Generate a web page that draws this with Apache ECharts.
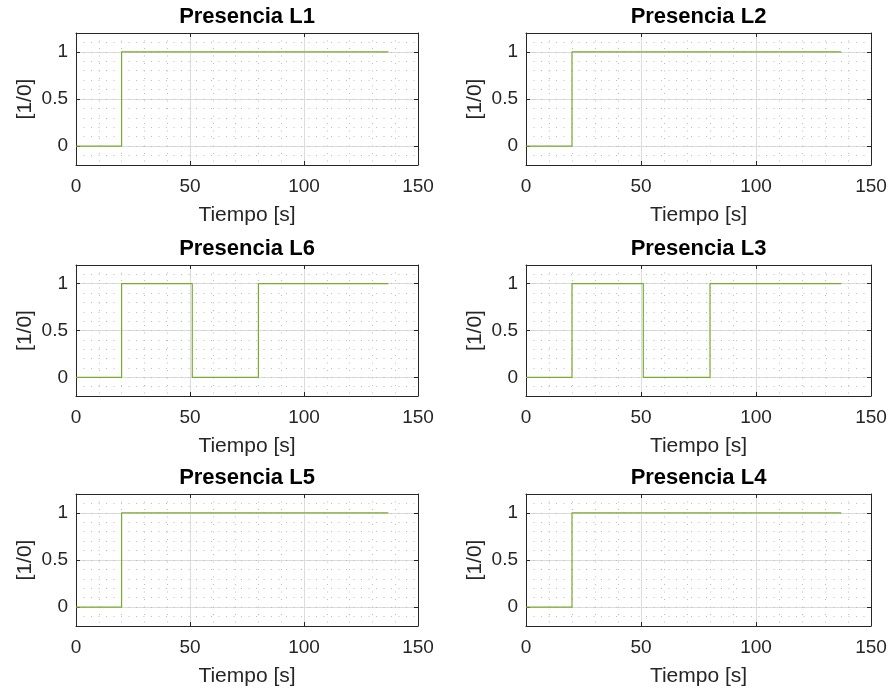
<!DOCTYPE html>
<html>
<head>
<meta charset="utf-8">
<script src="https://cdn.jsdelivr.net/npm/echarts@6/dist/echarts.min.js"></script>
<style>
html,body{margin:0;padding:0;background:#fff;}
#c{width:891px;height:690px;}
</style>
</head>
<body>
<div id="c"></div>
<script>
// ---- data ----
const titles = ['Presencia L1', 'Presencia L2', 'Presencia L6', 'Presencia L3', 'Presencia L5', 'Presencia L4'];
const timeL1 = [0, 20, 137];            const valL1 = [0, 1, 1];
const timeL2 = [0, 20, 137];            const valL2 = [0, 1, 1];
const timeL6 = [0, 20, 51, 80, 137];    const valL6 = [0, 1, 0, 1, 1];
const timeL3 = [0, 20, 51, 80, 137];    const valL3 = [0, 1, 0, 1, 1];
const timeL5 = [0, 20, 137];            const valL5 = [0, 1, 1];
const timeL4 = [0, 20, 137];            const valL4 = [0, 1, 1];
const yTickValues = [0, 0.5, 1];
const xLabel = 'Tiempo [s]';
const yLabel = '[1/0]';

const panels = [
  [timeL1, valL1], [timeL2, valL2],
  [timeL6, valL6], [timeL3, valL3],
  [timeL5, valL5], [timeL4, valL4]
];

// ---- layout ----
const colLeft = [76, 526];
const colWidth = [342, 345];
const rowTop = [33, 265, 494];
const rowHeight = [132, 131, 132];

const FONT = 'Arial, "Liberation Sans", Helvetica, sans-serif';
const DARK = '#262626';
const LINE = '#77ac30';
const MINOR = {color: '#bcbcbc', width: 1, type: [1, 6.5]};

const grid = [], xAxis = [], yAxis = [], series = [];
panels.forEach((p, i) => {
  const r = Math.floor(i / 2), c = i % 2;
  grid.push({left: colLeft[c], top: rowTop[r], width: colWidth[c], height: rowHeight[r], containLabel: false});
  // bottom main x axis
  xAxis.push({
    type: 'value', gridIndex: i, position: 'bottom', min: 0, max: 150, interval: 50,
    axisLine: {show: true, onZero: false, lineStyle: {color: DARK, width: 1}},
    axisTick: {show: true, inside: true, length: 4, lineStyle: {color: DARK}},
    axisLabel: {show: true, color: DARK, fontSize: 19, fontFamily: FONT, margin: 12},
    splitLine: {show: true, lineStyle: {color: '#dcdcdc', width: 1}},
    minorTick: {show: false, splitNumber: 5},
    minorSplitLine: {show: true, lineStyle: MINOR},
    name: xLabel, nameLocation: 'middle', nameGap: 40,
    nameTextStyle: {color: DARK, fontSize: 21, fontFamily: FONT}
  });
  // top box x axis with title
  xAxis.push({
    type: 'value', gridIndex: i, position: 'top', min: 0, max: 150, interval: 50,
    axisLine: {show: true, onZero: false, lineStyle: {color: DARK, width: 1}},
    axisTick: {show: true, inside: true, length: 4, lineStyle: {color: DARK}},
    axisLabel: {show: false}, splitLine: {show: false},
    name: titles[i], nameLocation: 'middle', nameGap: 5,
    nameTextStyle: {color: '#000', fontSize: 22, fontWeight: 'bold', fontFamily: FONT}
  });
  // left main y axis
  yAxis.push({
    type: 'value', gridIndex: i, position: 'left', min: -0.2, max: 1.2,
    axisLine: {show: true, onZero: false, lineStyle: {color: DARK, width: 1}},
    axisTick: {show: true, inside: true, length: 4, customValues: yTickValues, lineStyle: {color: DARK}},
    axisLabel: {show: true, customValues: yTickValues, color: DARK, fontSize: 19, fontFamily: FONT, margin: 8},
    splitLine: {show: true, lineStyle: {color: '#dcdcdc', width: 1}},
    name: yLabel, nameLocation: 'middle', nameRotate: 90, nameGap: 40,
    nameTextStyle: {color: DARK, fontSize: 21, fontFamily: FONT}
  });
  // right box y axis
  yAxis.push({
    type: 'value', gridIndex: i, position: 'right', min: -0.2, max: 1.2,
    axisLine: {show: true, onZero: false, lineStyle: {color: DARK, width: 1}},
    axisTick: {show: true, inside: true, length: 4, customValues: yTickValues, lineStyle: {color: DARK}},
    axisLabel: {show: false}, splitLine: {show: false}
  });
  // hidden minor-grid y axis
  yAxis.push({
    type: 'value', gridIndex: i, position: 'right', min: -0.2, max: 1.2, interval: 0.1,
    axisLine: {show: false}, axisTick: {show: false}, axisLabel: {show: false},
    splitLine: {show: true, lineStyle: MINOR}
  });
  const t = p[0], v = p[1];
  series.push({
    type: 'line', xAxisIndex: 2 * i, yAxisIndex: 3 * i, step: 'end',
    data: t.map((x, k) => [x, v[k]]),
    symbol: 'none', lineStyle: {color: LINE, width: 1.2}, silent: true, animation: false
  });
});

const chart = echarts.init(document.getElementById('c'), null, {renderer: 'canvas'});
chart.setOption({
  backgroundColor: '#fff',
  animation: false,
  grid, xAxis, yAxis, series
});
</script>
</body>
</html>
